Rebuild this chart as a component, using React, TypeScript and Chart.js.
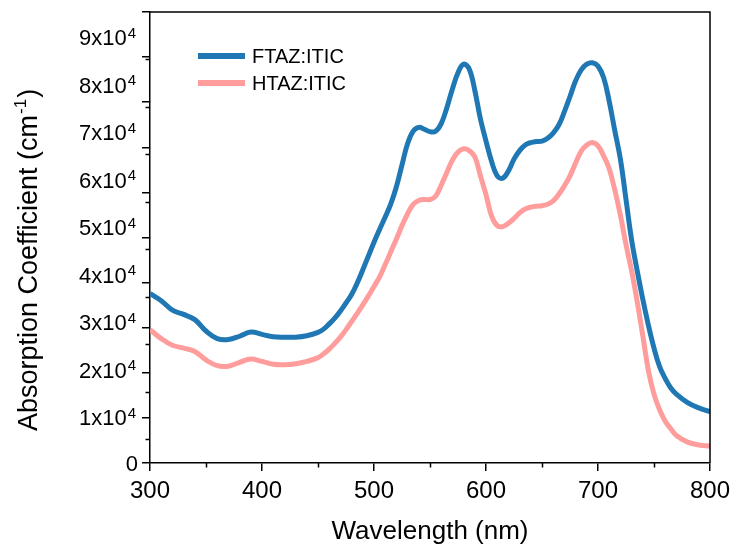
import React, { useEffect, useRef } from 'react';
import { Chart, registerables } from 'chart.js';

Chart.register(...registerables);

// Wavelength (nm)
const wavelengths = [
  300, 310, 320, 330, 340, 350, 360, 370, 380, 390, 400, 410, 420, 430, 440, 450, 455, 460, 465, 470, 475,
  480, 485, 490, 495, 500, 505, 510, 515, 520, 525, 530, 535, 540, 545, 550, 555, 560, 565,
  570, 575, 580, 585, 590, 595, 600, 605, 610, 615, 620, 625, 630, 635, 640, 645, 650, 655,
  660, 665, 670, 675, 680, 685, 690, 695, 700, 705, 710, 715, 720, 725, 730, 735, 740, 745,
  750, 755, 760, 765, 770, 780, 790, 800,
];

// Absorption coefficient (cm^-1)
const ftazItic = [
  35700, 34200, 32200, 31300, 30200, 27800, 26200, 26000, 26700, 27600, 27100, 26600, 26500, 26500, 26800, 27500, 28200, 29300, 30500, 32000, 33700,
  35500, 37900, 40700, 43600, 46500, 49200, 51800, 54600, 58200, 62800, 67300, 69900, 70700, 70300, 69800, 69900, 71500, 74800,
  78800, 82200, 84000, 83000, 78500, 72500, 67800, 63500, 60500, 60000, 61500, 64000, 65800, 67000, 67500, 67700, 67800, 68400,
  69500, 71200, 74000, 77200, 80500, 82800, 84000, 84300, 83600, 81200, 76200, 70000, 64000, 55500, 47000, 40500, 34500, 29000,
  24200, 20300, 17800, 15800, 14500, 12700, 11600, 10800,
];

const htazItic = [
  28100, 26200, 24800, 24200, 23500, 21700, 20500, 20400, 21200, 21900, 21400, 20800, 20700, 20900, 21400, 22200, 23000, 24000, 25200, 26500, 28100,
  29800, 31500, 33300, 35200, 37200, 39200, 41800, 44500, 47200, 50000, 52500, 54500, 55300, 55500, 55500, 56200, 58500, 61200,
  63800, 65500, 66200, 65800, 64500, 60500, 56500, 52000, 50000, 49800, 50500, 51500, 52700, 53500, 53900, 54100, 54200, 54500,
  55200, 56600, 58400, 60500, 63200, 65700, 67000, 67500, 66800, 64700, 62000, 57500, 52200, 46000, 40500, 34000, 26800, 19500,
  14500, 11200, 8800, 7200, 5800, 4400, 3800, 3600,
];

const seriesLabels = ['FTAZ:ITIC', 'HTAZ:ITIC'];
const seriesColors = ['#1f77b4', '#ff9d9d'];

const xMinorTicks = [350, 450, 550, 650, 750];
const yMajorTicks = [0, 10000, 20000, 30000, 40000, 50000, 60000, 70000, 80000, 90000];
const yMinorTicks = [5000, 15000, 25000, 35000, 45000, 55000, 65000, 75000, 85000];
const yTickMantissas = ['0', '1', '2', '3', '4', '5', '6', '7', '8', '9'];
const yTickExponent = '4';

const xTitle = 'Wavelength (nm)';
const yTitleMain = 'Absorption Coefficient (cm';
const yTitleSup = '-1';
const yTitleEnd = ')';

const FONT = '"Liberation Sans", Arial, Helvetica, sans-serif';

const decorPlugin = {
  id: 'decor',
  afterDraw(chart: any) {
    const ctx: CanvasRenderingContext2D = chart.ctx;
    const { left, right, top, bottom } = chart.chartArea;
    const xs = chart.scales.x;
    const ys = chart.scales.y;
    ctx.save();
    ctx.strokeStyle = '#000';
    ctx.lineWidth = 1.5;
    // top and right frame
    ctx.beginPath();
    ctx.moveTo(left, top);
    ctx.lineTo(right, top);
    ctx.lineTo(right, bottom);
    ctx.stroke();
    // minor ticks
    ctx.beginPath();
    for (const v of xMinorTicks) {
      const px = Math.round(xs.getPixelForValue(v)) + 0.5;
      ctx.moveTo(px, bottom);
      ctx.lineTo(px, bottom + 4.5);
    }
    for (const v of yMinorTicks) {
      const py = Math.round(ys.getPixelForValue(v)) + 0.5;
      ctx.moveTo(left, py);
      ctx.lineTo(left - 4.5, py);
    }
    ctx.stroke();

    // y tick labels with superscripts
    ctx.fillStyle = '#000';
    ctx.textBaseline = 'alphabetic';
    ctx.textAlign = 'left';
    const labelRight = left - 14;
    yMajorTicks.forEach((v, i) => {
      const py = ys.getPixelForValue(v);
      const m = yTickMantissas[i];
      if (v === 0) {
        ctx.font = `22px ${FONT}`;
        const w = ctx.measureText(m).width;
        ctx.fillText(m, labelRight + 2 - w, py + 8);
        return;
      }
      const base = `${m}x10`;
      ctx.font = `22px ${FONT}`;
      const bw = ctx.measureText(base).width;
      ctx.font = `15px ${FONT}`;
      const sw = ctx.measureText(yTickExponent).width;
      const x0 = labelRight - bw - sw - 1;
      ctx.font = `22px ${FONT}`;
      ctx.fillText(base, x0, py + 9.5);
      ctx.font = `15px ${FONT}`;
      ctx.fillText(yTickExponent, x0 + bw + 1, py + 2);
    });

    // y axis title
    ctx.font = `27px ${FONT}`;
    const w1 = ctx.measureText(yTitleMain).width;
    const w3 = ctx.measureText(yTitleEnd).width;
    ctx.font = `17px ${FONT}`;
    const w2 = ctx.measureText(yTitleSup).width;
    const total = w1 + w2 + w3 + 2;
    ctx.translate(37, 260 + total / 2);
    ctx.rotate(-Math.PI / 2);
    ctx.font = `27px ${FONT}`;
    ctx.fillText(yTitleMain, 0, 0);
    ctx.font = `17px ${FONT}`;
    ctx.fillText(yTitleSup, w1 + 1, -11);
    ctx.font = `27px ${FONT}`;
    ctx.fillText(yTitleEnd, w1 + w2 + 2, 0);
    ctx.restore();

    // legend
    ctx.save();
    const legendRows = [56, 83];
    chart.data.datasets.forEach((ds: any, i: number) => {
      const y = legendRows[i];
      ctx.strokeStyle = ds.borderColor;
      ctx.lineWidth = 6;
      ctx.lineCap = 'butt';
      ctx.beginPath();
      ctx.moveTo(198, y);
      ctx.lineTo(245, y);
      ctx.stroke();
      ctx.fillStyle = '#000';
      ctx.font = `20px ${FONT}`;
      ctx.textBaseline = 'alphabetic';
      ctx.textAlign = 'left';
      ctx.fillText(ds.label, 252, y + 7.3);
    });
    ctx.restore();
  },
};

export default function App() {
  const canvasRef = useRef<HTMLCanvasElement | null>(null);

  useEffect(() => {
    if (!canvasRef.current) return;
    const series = [ftazItic, htazItic];
    const chart = new Chart(canvasRef.current, {
      type: 'line',
      data: {
        datasets: series.map((vals, i) => ({
          label: seriesLabels[i],
          data: wavelengths.map((x, j) => ({ x, y: vals[j] })),
          borderColor: seriesColors[i],
          backgroundColor: seriesColors[i],
          borderWidth: 5,
          pointRadius: 0,
          fill: false,
          tension: 0.4,
        })),
      },
      options: {
        animation: false,
        responsive: false,
        devicePixelRatio: 1,
        layout: { padding: { left: 0, right: 22, top: 12, bottom: 0 } },
        plugins: {
          legend: { display: false },
          tooltip: { enabled: false },
        },
        scales: {
          x: {
            type: 'linear',
            min: 300,
            max: 800,
            afterFit: (s: any) => {
              s.height = 87;
              s.paddingLeft = 0;
              s.paddingRight = 0;
            },
            ticks: {
              stepSize: 100,
              autoSkip: false,
              maxRotation: 0,
              color: '#000',
              padding: 6,
              font: { family: FONT, size: 24 },
            },
            grid: {
              display: true,
              drawOnChartArea: false,
              drawTicks: true,
              tickLength: 8,
              color: '#000',
              lineWidth: 1.5,
            },
            border: { display: true, color: '#000', width: 1.5 },
            title: {
              display: true,
              text: xTitle,
              color: '#000',
              font: { family: FONT, size: 26 },
              padding: { top: 0, bottom: 3 },
            },
          },
          y: {
            type: 'linear',
            min: 0,
            max: 95000,
            afterFit: (s: any) => {
              s.width = 150;
              s.paddingTop = 0;
              s.paddingBottom = 0;
            },
            ticks: {
              stepSize: 10000,
              includeBounds: false,
              display: false,
            },
            grid: {
              display: true,
              drawOnChartArea: false,
              drawTicks: true,
              tickLength: 8,
              color: '#000',
              lineWidth: 1.5,
            },
            border: { display: true, color: '#000', width: 1.5 },
          },
        },
      },
      plugins: [decorPlugin],
    });
    return () => chart.destroy();
  }, []);

  return (
    <div style={{ position: 'fixed', left: 0, top: 0, width: 732, height: 550, background: '#fff' }}>
      <canvas ref={canvasRef} width={732} height={550} style={{ width: 732, height: 550, display: 'block' }} />
    </div>
  );
}
